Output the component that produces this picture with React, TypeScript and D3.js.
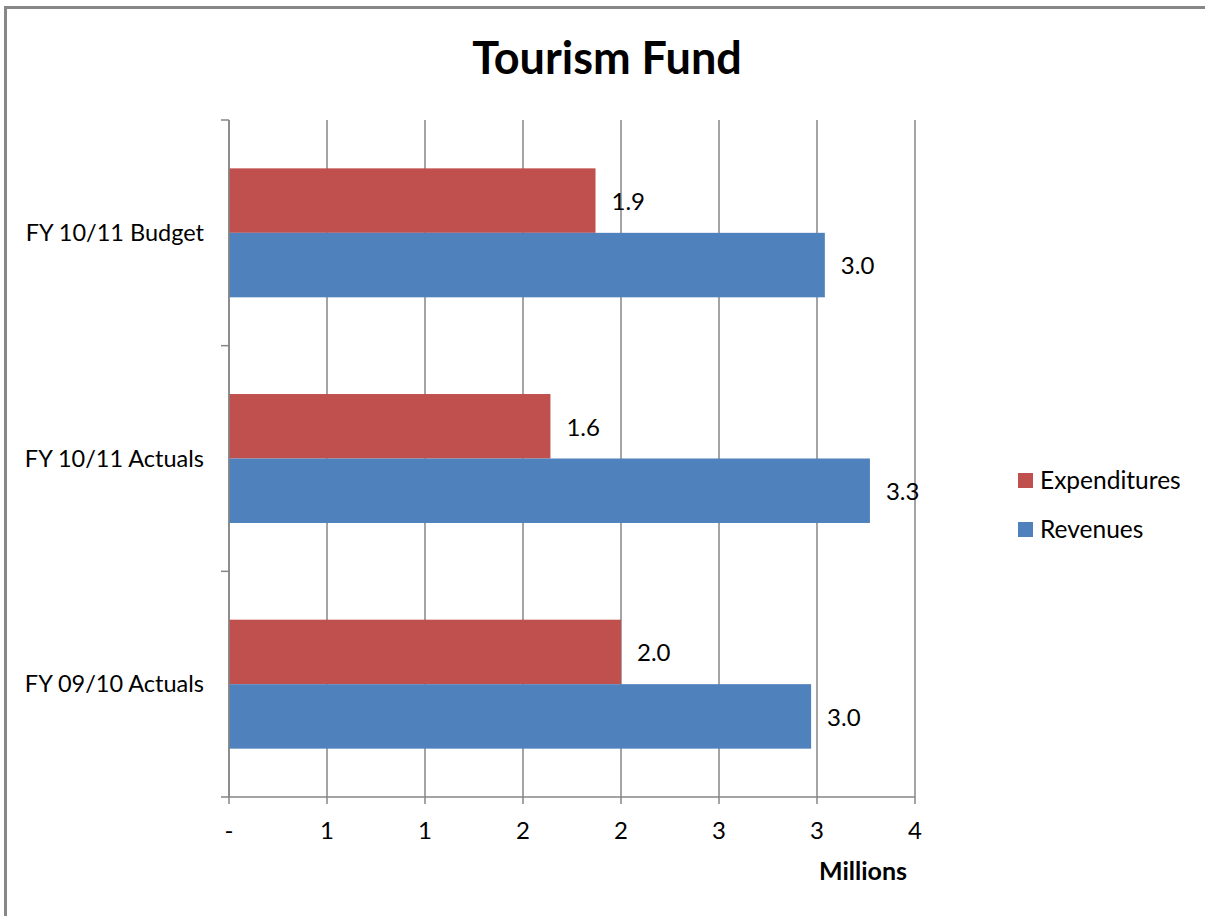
import React from "react";
import * as d3 from "d3";

const categories = ["FY 10/11 Budget", "FY 10/11 Actuals", "FY 09/10 Actuals"];
const seriesNames = ["Expenditures", "Revenues"];
const expenditures = [1.87, 1.64, 2.0];
const revenues = [3.04, 3.27, 2.97];
const tickValues = [0, 0.5, 1, 1.5, 2, 2.5, 3, 3.5];
const tickLabels = ["-", "1", "1", "2", "2", "3", "3", "4"];
const colors = ["#C0504D", "#4F81BD"];

const FONT = "Lato, 'Open Sans', sans-serif";

export default function App() {
  const W = 1205, H = 916;
  const left = 229, right = 915, top = 120, bottom = 797;
  const x = d3.scaleLinear().domain([0, 3.5]).range([left, right]);
  const p = 96.75 / 225.75;
  const y = d3.scaleBand<string>().domain(categories).range([top, bottom]).paddingInner(p).paddingOuter(p / 2);
  const sub = d3.scaleBand<string>().domain(seriesNames).range([0, y.bandwidth()]);
  const values = [expenditures, revenues];
  const fmt = d3.format(".1f");
  const step = y.step();
  const catTicks = d3.range(categories.length + 1).map((i) => top + i * step);
  const grid = "#868686";

  return (
    <svg width={W} height={H} style={{ position: "absolute", left: 0, top: 0, background: "#fff" }} fontFamily={FONT}>
      <rect x={5.5} y={7.5} width={W + 10} height={H + 10} fill="#fff" stroke="#878787" strokeWidth={3} />
      <text x={607} y={74} textAnchor="middle" fontSize={45} fontWeight="bold" fill="#000">Tourism Fund</text>
      {/* vertical gridlines */}
      {tickValues.map((t, i) => (
        <line key={"g" + i} x1={x(t)} x2={x(t)} y1={top} y2={bottom + 7} stroke={grid} strokeWidth={1.5} />
      ))}
      {/* y axis ticks */}
      {catTicks.map((v, i) => (
        <line key={"yt" + i} x1={left - 8} x2={left} y1={v} y2={v} stroke={grid} strokeWidth={1.5} />
      ))}
      {/* x axis line */}
      <line x1={left} x2={right} y1={bottom} y2={bottom} stroke={grid} strokeWidth={1.5} />
      {/* bars */}
      {categories.map((c, ci) =>
        seriesNames.map((s, si) => {
          const v = values[si][ci];
          const by = (y(c) as number) + (sub(s) as number);
          const bh = sub.bandwidth();
          return (
            <g key={c + s}>
              <rect x={x(0)} y={by} width={x(v) - x(0)} height={bh} fill={colors[si]} />
              <text x={x(v) + 16} y={by + bh / 2 + 1} dy="0.35em" fontSize={24} fill="#000">{fmt(v)}</text>
            </g>
          );
        })
      )}
      {/* redraw y axis line over bars */}
      <line x1={left} x2={left} y1={top} y2={bottom} stroke={grid} strokeWidth={1.5} />
      {/* category labels */}
      {categories.map((c) => (
        <text key={"l" + c} x={204} y={(y(c) as number) + y.bandwidth() / 2} dy="0.35em" textAnchor="end" fontSize={23.5} fill="#000">{c}</text>
      ))}
      {/* x tick labels */}
      {tickValues.map((t, i) => (
        <text key={"tl" + i} x={x(t)} y={831} dy="0.35em" textAnchor="middle" fontSize={24} fill="#000">{tickLabels[i]}</text>
      ))}
      <text x={863} y={880} textAnchor="middle" fontSize={25} fontWeight="bold" fill="#000">Millions</text>
      {/* legend */}
      {seriesNames.map((s, i) => (
        <g key={"lg" + s} transform={`translate(1018, ${473 + i * 49})`}>
          <rect x={0} y={0} width={15} height={15} fill={colors[i]} />
          <text x={22} y={7.5} dy="0.35em" fontSize={24.5} fill="#000">{s}</text>
        </g>
      ))}
    </svg>
  );
}
